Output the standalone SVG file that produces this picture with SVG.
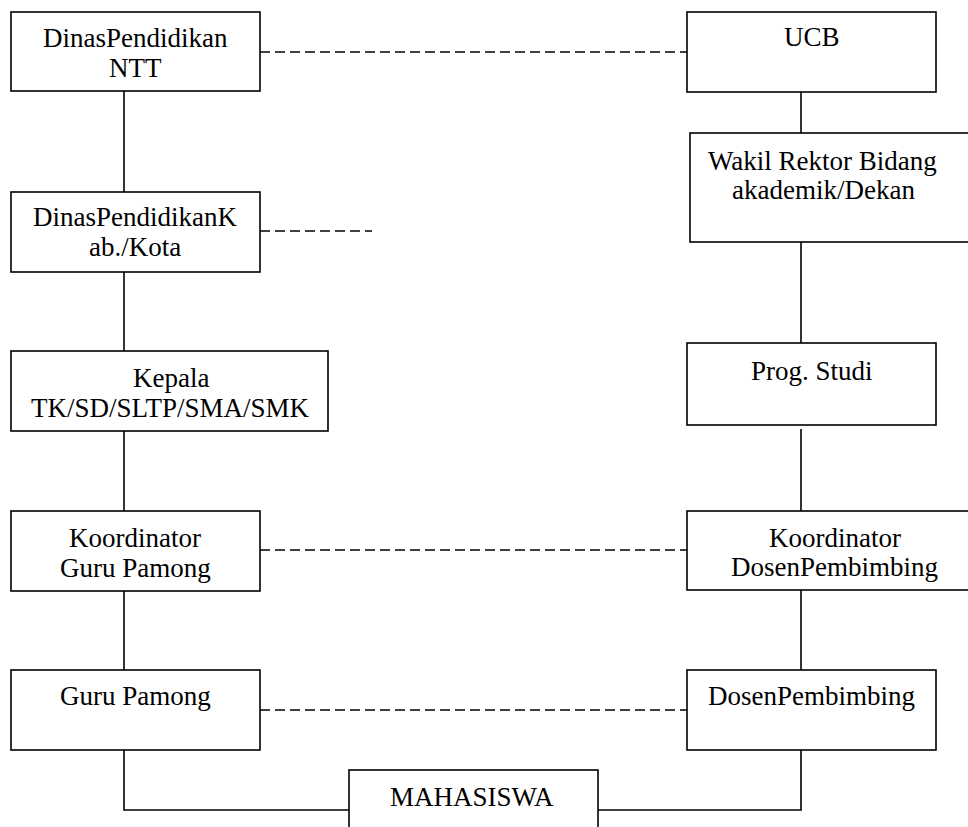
<svg xmlns="http://www.w3.org/2000/svg" width="968" height="827" viewBox="0 0 968 827">
<defs>
<rect id="bx" width="249" height="80" fill="#fff" stroke="#000" stroke-width="1.6"/>
</defs>
<rect width="968" height="827" fill="#fff"/>
<g id="connectors" fill="none" stroke="#000" stroke-width="1.6">
<g stroke-dasharray="10 5">
<line x1="260" y1="52" x2="687" y2="52"/>
<line x1="260" y1="231" x2="372" y2="231"/>
<line x1="260" y1="550" x2="687" y2="550"/>
<line x1="260" y1="710" x2="687" y2="710"/>
</g>
<line x1="124" y1="91" x2="124" y2="192"/>
<line x1="124" y1="272" x2="124" y2="351"/>
<line x1="124" y1="431" x2="124" y2="511"/>
<line x1="124" y1="590" x2="124" y2="670"/>
<line x1="801" y1="91" x2="801" y2="133"/>
<line x1="801" y1="242" x2="801" y2="343"/>
<line x1="801" y1="429" x2="801" y2="511"/>
<line x1="801" y1="590" x2="801" y2="670"/>
<polyline points="124,750 124,810 349,810"/>
<polyline points="598,810 801,810 801,750"/>
</g>
<g id="dinas-ntt"><rect x="11" y="12" width="249" height="79" fill="#fff" stroke="#000" stroke-width="1.6"/><text x="43" y="47" style="font-family:'Liberation Serif','Times New Roman',serif;font-size:27px">DinasPendidikan</text><text x="109" y="77" style="font-family:'Liberation Serif','Times New Roman',serif;font-size:27px">NTT</text></g>
<g id="dinas-kab"><use href="#bx" x="11" y="192"/><text x="33" y="226" style="font-family:'Liberation Serif','Times New Roman',serif;font-size:27px">DinasPendidikanK</text><text x="89" y="256" style="font-family:'Liberation Serif','Times New Roman',serif;font-size:27px">ab./Kota</text></g>
<g id="kepala"><rect x="11" y="351" width="317" height="80" fill="#fff" stroke="#000" stroke-width="1.6"/><text x="133" y="387" style="font-family:'Liberation Serif','Times New Roman',serif;font-size:27px">Kepala</text><text x="31" y="417" style="font-family:'Liberation Serif','Times New Roman',serif;font-size:27px">TK/SD/SLTP/SMA/SMK</text></g>
<g id="koord-guru"><use href="#bx" x="11" y="511"/><text x="69" y="547" style="font-family:'Liberation Serif','Times New Roman',serif;font-size:27px">Koordinator</text><text x="60" y="577" style="font-family:'Liberation Serif','Times New Roman',serif;font-size:27px">Guru Pamong</text></g>
<g id="guru"><use href="#bx" x="11" y="670"/><text x="60" y="705" style="font-family:'Liberation Serif','Times New Roman',serif;font-size:27px">Guru Pamong</text></g>
<g id="ucb"><use href="#bx" x="687" y="12"/><text x="784" y="46" style="font-family:'Liberation Serif','Times New Roman',serif;font-size:27px">UCB</text></g>
<g id="wakil"><rect x="690" y="133" width="290" height="109" fill="#fff" stroke="#000" stroke-width="1.6"/><text x="708" y="170" style="font-family:'Liberation Serif','Times New Roman',serif;font-size:27px">Wakil Rektor Bidang</text><text x="732" y="199" style="font-family:'Liberation Serif','Times New Roman',serif;font-size:27px">akademik/Dekan</text></g>
<g id="prodi"><rect x="687" y="343" width="249" height="82" fill="#fff" stroke="#000" stroke-width="1.6"/><text x="751" y="380" style="font-family:'Liberation Serif','Times New Roman',serif;font-size:27px">Prog. Studi</text></g>
<g id="koord-dosen"><rect x="687" y="511" width="295" height="79" fill="#fff" stroke="#000" stroke-width="1.6"/><text x="769" y="547" style="font-family:'Liberation Serif','Times New Roman',serif;font-size:27px">Koordinator</text><text x="731" y="576" style="font-family:'Liberation Serif','Times New Roman',serif;font-size:27px">DosenPembimbing</text></g>
<g id="dosen"><use href="#bx" x="687" y="670"/><text x="708" y="705" style="font-family:'Liberation Serif','Times New Roman',serif;font-size:27px">DosenPembimbing</text></g>
<g id="mahasiswa"><rect x="349" y="770" width="249" height="70" fill="#fff" stroke="#000" stroke-width="1.6"/><text x="390" y="806" style="font-family:'Liberation Serif','Times New Roman',serif;font-size:27px">MAHASISWA</text></g>
</svg>
